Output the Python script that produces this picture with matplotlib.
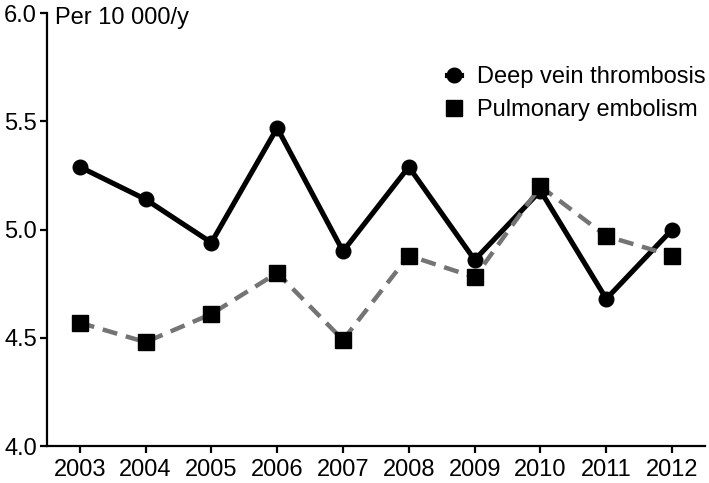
import matplotlib
matplotlib.use("Agg")
import matplotlib.pyplot as plt

years = [2003, 2004, 2005, 2006, 2007, 2008, 2009, 2010, 2011, 2012]
dvt = [5.29, 5.14, 4.94, 5.47, 4.90, 5.29, 4.86, 5.18, 4.68, 5.00]
pe = [4.57, 4.48, 4.61, 4.80, 4.49, 4.88, 4.78, 5.20, 4.97, 4.88]
yticks = [4.0, 4.5, 5.0, 5.5, 6.0]
labels = ["Deep vein thrombosis", "Pulmonary embolism"]

plt.rcParams['font.family'] = ['Liberation Sans', 'DejaVu Sans']

fig = plt.figure(figsize=(7.09, 4.83), dpi=100)
ax = fig.add_axes([0.066, 0.0766, 0.9284, 0.896])

ax.plot(years, dvt, color='black', lw=3.7, marker='o', ms=10.5,
        label=labels[0], zorder=3, solid_joinstyle='miter')
ax.plot(years, pe, color='#747474', lw=3.2, ls=(0, (3.4, 2.0)), marker='s', ms=11,
        mfc='black', mec='black', label=labels[1], zorder=4)

ax.set_xlim(2002.5, 2012.5)
ax.set_ylim(4.0, 6.0)
ax.set_xticks(years)
ax.set_xticklabels([str(y) for y in years])
ax.set_yticks(yticks)
ax.set_yticklabels([f"{v:.1f}" for v in yticks])

for s in ['top', 'right']:
    ax.spines[s].set_visible(False)
for s in ['left', 'bottom']:
    ax.spines[s].set_linewidth(1.6)
ax.tick_params(axis='both', labelsize=17, width=1.6, length=5, direction='out', pad=4)
ax.tick_params(axis='y', pad=2)

ax.text(0.012, 0.988, "Per 10 000/y", transform=ax.transAxes, fontsize=17,
        va='center', ha='left')

leg = ax.legend(loc='upper right', bbox_to_anchor=(1.016, 0.90), frameon=False,
                fontsize=17, handlelength=0.6, handletextpad=0.7,
                labelspacing=0.46, borderaxespad=0)

fig.savefig("out.png", dpi=100)
